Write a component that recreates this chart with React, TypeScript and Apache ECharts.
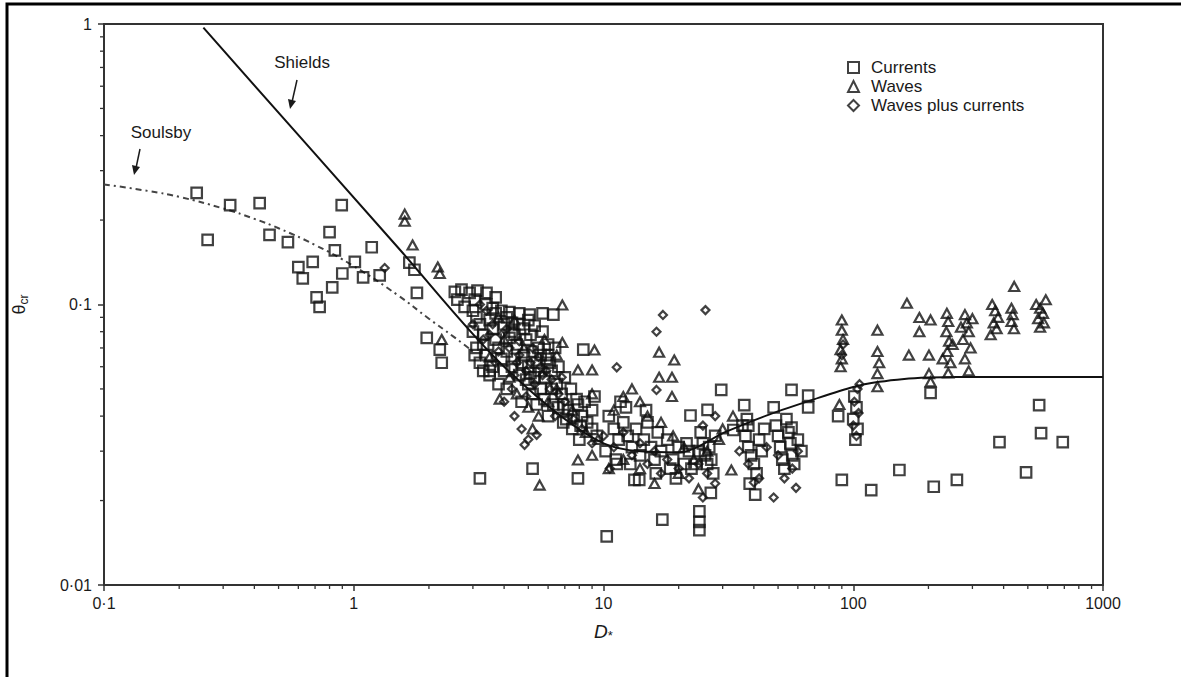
import React, { useEffect, useRef } from "react";
import * as echarts from "echarts";

// ---- Data (D*, theta_cr) ----
const currents: number[][] = [
  [0.235, 0.25], [0.26, 0.17], [0.32, 0.226], [0.42, 0.23], [0.46, 0.177], [0.545, 0.167], [0.6, 0.136], [0.625, 0.124],
  [0.685, 0.142], [0.71, 0.106], [0.73, 0.098], [0.8, 0.181], [0.82, 0.115], [0.84, 0.156], [0.895, 0.226], [0.9, 0.129],
  [1.01, 0.142], [1.09, 0.125], [1.18, 0.16], [1.27, 0.127], [1.67, 0.141], [1.75, 0.133], [1.79, 0.11], [1.96, 0.076],
  [2.21, 0.069], [2.25, 0.062],
  [2.54, 0.111], [2.7, 0.113], [2.91, 0.11], [3.13, 0.112], [3.4, 0.11], [3.7, 0.106], [2.6, 0.104], [3.05, 0.104],
  [2.78, 0.098], [3.0, 0.095], [3.1, 0.09], [3.2, 0.085], [3.0, 0.08], [3.3, 0.078], [3.5, 0.088], [3.6, 0.082],
  [3.3, 0.072], [3.1, 0.07], [3.4, 0.066], [3.7, 0.075], [3.8, 0.07], [3.9, 0.064], [3.6, 0.06], [3.2, 0.062],
  [4.0, 0.058], [3.5, 0.056], [3.8, 0.052], [4.1, 0.05], [3.3, 0.058], [3.05, 0.066],
  [4.2, 0.094], [4.6, 0.093], [5.06, 0.092], [5.7, 0.093], [6.3, 0.092], [8.3, 0.069], [9.0, 0.042], [7.9, 0.044],
  [3.2, 0.024], [5.2, 0.026], [7.9, 0.024], [11.3, 0.027], [13.3, 0.0237], [10.3, 0.0149],
  [4.3, 0.08], [4.5, 0.072], [4.8, 0.066], [5.0, 0.06], [5.3, 0.055], [5.6, 0.05], [4.6, 0.085], [5.1, 0.078],
  [5.5, 0.07], [5.9, 0.064], [6.2, 0.058], [6.5, 0.052], [5.8, 0.046], [6.3, 0.044], [6.8, 0.048], [7.2, 0.042],
  [4.4, 0.064], [4.9, 0.054], [5.4, 0.062], [6.0, 0.072], [6.6, 0.06], [7.0, 0.055], [7.4, 0.05], [7.8, 0.046],
  [8.2, 0.04], [8.6, 0.038], [9.0, 0.036], [9.4, 0.034], [6.9, 0.038], [7.5, 0.036], [8.0, 0.033], [5.2, 0.048],
  [4.7, 0.045], [3.5, 0.058], [8.4, 0.045], [9.2, 0.047],
  [4.1, 0.068], [4.3, 0.06], [4.6, 0.056], [4.9, 0.075], [5.2, 0.068], [5.5, 0.058], [5.8, 0.055], [6.1, 0.062],
  [4.0, 0.085], [4.4, 0.078], [5.0, 0.088],
  [3.4, 0.1], [3.6, 0.097], [3.9, 0.095], [4.1, 0.09], [3.7, 0.093], [4.3, 0.086], [4.8, 0.082], [5.3, 0.084],
  [5.7, 0.08], [6.0, 0.066], [6.4, 0.07], [5.0, 0.052], [5.4, 0.044], [6.0, 0.04], [6.6, 0.043], [7.1, 0.039],
  [4.2, 0.076], [4.7, 0.062], [5.1, 0.057], [5.6, 0.066], [6.2, 0.05], [6.9, 0.044], [7.6, 0.04], [8.1, 0.037],
  [10.5, 0.04], [11, 0.036], [11.5, 0.033], [12, 0.038], [12.5, 0.034], [13, 0.031], [13.5, 0.036], [14, 0.029],
  [14.5, 0.033], [15, 0.038], [15.5, 0.031], [16, 0.028], [16.5, 0.035], [17, 0.03], [18, 0.033], [19, 0.028],
  [20, 0.031], [21, 0.027], [22, 0.03], [10.2, 0.03], [11.2, 0.028], [12.8, 0.027], [16.2, 0.025], [18.5, 0.026],
  [19.5, 0.024], [21.5, 0.032], [22.5, 0.026], [12.3, 0.043], [14.8, 0.042], [11.7, 0.045], [22.3, 0.0402],
  [13.9, 0.0237], [17.2, 0.0171],
  [26.1, 0.0421], [29.6, 0.0496], [33.1, 0.0357], [36.6, 0.0438], [38, 0.037], [24.2, 0.0183], [24.2, 0.0168],
  [24.2, 0.0157], [26.9, 0.0213], [24.5, 0.035], [25, 0.032], [25.5, 0.029], [26, 0.027], [26.5, 0.031], [27, 0.028],
  [27.5, 0.025], [28, 0.034], [24, 0.03], [23.5, 0.027], [36, 0.037], [37, 0.034], [38, 0.031], [39, 0.029],
  [40, 0.027], [41, 0.025], [42, 0.033], [43, 0.03], [38.5, 0.023], [40.5, 0.021], [37.5, 0.039], [44, 0.036],
  [48, 0.043], [49, 0.037], [50, 0.034], [51, 0.031], [52, 0.028], [53, 0.026], [54, 0.039], [55, 0.035],
  [56, 0.032], [57, 0.029], [58, 0.027], [60, 0.033], [62, 0.03], [56.6, 0.0496], [66, 0.0473], [66, 0.043],
  [56.6, 0.0364],
  [87, 0.04], [101, 0.047], [103, 0.043], [100, 0.039], [104, 0.036], [102, 0.033], [90, 0.0237], [118, 0.0218],
  [153, 0.0257], [210, 0.0224], [260, 0.0237], [204, 0.0484], [555, 0.0438], [385, 0.0323], [565, 0.0348],
  [690, 0.0323], [492, 0.0252],
];

const waves: number[][] = [
  [1.6, 0.21], [1.6, 0.198], [1.72, 0.163], [2.17, 0.136], [2.21, 0.129], [2.25, 0.075],
  [6.84, 0.0996], [6.84, 0.0732], [9.2, 0.0688], [7.9, 0.0584], [9.0, 0.0584], [9.0, 0.048], [7.9, 0.0279],
  [5.55, 0.0227], [3.84, 0.046], [16.7, 0.0676], [19.2, 0.0634], [16.7, 0.055], [18.8, 0.055], [18.8, 0.047],
  [32.5, 0.0257], [4.2, 0.055], [4.5, 0.048], [5.0, 0.043], [5.5, 0.04], [6.0, 0.045], [6.5, 0.05], [7.5, 0.042],
  [8.5, 0.035], [9.5, 0.033], [11, 0.042], [12, 0.047], [13, 0.05], [14, 0.045], [15, 0.04], [17, 0.038],
  [19, 0.034], [21, 0.031], [23, 0.028], [26, 0.03], [29, 0.033], [3.5, 0.065], [4.0, 0.075], [4.8, 0.07],
  [5.8, 0.075], [6.5, 0.066], [12, 0.028], [14, 0.026], [16, 0.023], [20, 0.025], [24, 0.022], [10.5, 0.026],
  [9, 0.029], [30, 0.036], [33, 0.04], [5.2, 0.036], [3.8, 0.09], [4.4, 0.088],
  [88, 0.044], [90, 0.088], [90, 0.081], [91, 0.075], [89, 0.069], [90, 0.064], [89, 0.06], [125, 0.081],
  [125, 0.068], [125, 0.0567], [125, 0.0509], [127, 0.062], [164, 0.101], [184, 0.0899], [204, 0.0881],
  [184, 0.08], [167, 0.066], [201, 0.066], [201, 0.0567], [204, 0.053], [237, 0.093], [240, 0.087], [236, 0.08],
  [242, 0.074], [238, 0.068], [245, 0.062], [240, 0.057], [250, 0.072], [228, 0.064], [280, 0.092], [285, 0.086],
  [290, 0.08], [275, 0.075], [295, 0.07], [280, 0.064], [290, 0.058], [300, 0.089], [270, 0.083], [360, 0.1],
  [370, 0.095], [380, 0.09], [365, 0.086], [375, 0.082], [355, 0.078], [441, 0.116], [430, 0.097], [435, 0.092],
  [430, 0.087], [440, 0.082], [540, 0.1], [560, 0.097], [575, 0.093], [550, 0.089], [580, 0.086], [560, 0.083],
  [590, 0.104],
];

const wavesPlusCurrents: number[][] = [
  [1.33, 0.135], [4.83, 0.0316], [5.4, 0.0343], [11.3, 0.0597], [17.3, 0.0918], [16.3, 0.08], [25.6, 0.0955],
  [16.3, 0.0496], [25, 0.0205], [40, 0.0232], [59, 0.0222], [48, 0.0205], [10.6, 0.026], [3.2, 0.1], [3.4, 0.095],
  [3.6, 0.085], [3.9, 0.078], [4.2, 0.07], [4.5, 0.062], [4.9, 0.058], [5.3, 0.052], [5.7, 0.056], [6.1, 0.05],
  [4.0, 0.045], [4.4, 0.04], [4.7, 0.036], [5.0, 0.033], [6.4, 0.04], [7.0, 0.045], [7.6, 0.039], [8.2, 0.036],
  [9.0, 0.032], [10, 0.034], [11, 0.031], [12, 0.035], [13, 0.029], [14, 0.032], [15, 0.027], [16, 0.03],
  [17, 0.025], [18, 0.028], [20, 0.026], [22, 0.024], [24, 0.027], [26, 0.025], [28, 0.023], [35, 0.03],
  [38, 0.027], [42, 0.024], [45, 0.031], [50, 0.029], [53, 0.024], [57, 0.026], [60, 0.03], [3.0, 0.085],
  [3.3, 0.075], [5.5, 0.065], [6.8, 0.055], [25, 0.037], [28, 0.04], [104, 0.05], [101, 0.045], [105, 0.041],
  [100, 0.037], [103, 0.034], [106, 0.052], [91, 0.072], [90, 0.066],
  [3.8, 0.068], [4.6, 0.066], [5.1, 0.062], [5.6, 0.06], [6.2, 0.054], [4.3, 0.05], [4.9, 0.047], [3.5, 0.078],
  [4.1, 0.082], [4.6, 0.074], [5.2, 0.07], [5.9, 0.058], [6.6, 0.048], [3.7, 0.062], [4.4, 0.056],
];

const shieldsCurve: number[][] = [
  [0.25, 0.97], [1.5, 0.16], [4, 0.06], [10, 0.032], [20, 0.0297], [31, 0.0352], [46, 0.0405], [70, 0.046],
  [100, 0.0508], [127, 0.053], [160, 0.0543], [200, 0.0549], [260, 0.0552], [1000, 0.0552],
];

const soulsbyCurve: number[][] = [
  [0.1, 0.268], [0.15, 0.254], [0.2, 0.242], [0.3, 0.22], [0.4, 0.202], [0.5, 0.187], [0.7, 0.163], [1, 0.137],
  [1.5, 0.108], [2, 0.089], [2.5, 0.077], [3, 0.068],
];

const xMinorTicks: number[] = [
  0.2, 0.3, 0.4, 0.5, 0.6, 0.7, 0.8, 0.9, 2, 3, 4, 5, 6, 7, 8, 9, 20, 30, 40, 50, 60, 70, 80, 90,
  200, 300, 400, 500, 600, 700, 800, 900,
];
const yMinorTicks: number[] = [
  0.02, 0.03, 0.04, 0.05, 0.06, 0.07, 0.08, 0.09, 0.2, 0.3, 0.4, 0.5, 0.6, 0.7, 0.8, 0.9,
];

const seriesNames = ["Currents", "Waves", "Waves plus currents"];

const FONT = "'Liberation Sans', Arial, Helvetica, sans-serif";
const INK = "#1a1a1a";

function fmtLog(v: number): string {
  const n = Math.round(Math.log10(v));
  if (n >= 0) return String(Math.pow(10, n));
  return "0·" + "0".repeat(-n - 1) + "1";
}

export default function App() {
  const ref = useRef<HTMLDivElement>(null);

  useEffect(() => {
    if (!ref.current) return;
    const chart = echarts.init(ref.current, undefined, { renderer: "svg" });

    const markerStyle = {
      color: "rgba(0,0,0,0)",
      borderColor: "#111",
      borderWidth: 2.2,
    };

    const option: any = {
      animation: false,
      backgroundColor: "#fff",
      grid: {
        left: 104,
        top: 24,
        width: 999,
        height: 561,
        show: true,
        borderColor: "#333",
        borderWidth: 2,
        backgroundColor: "transparent",
      },
      legend: {
        data: seriesNames,
        orient: "vertical",
        left: 842,
        top: 53,
        itemWidth: 11,
        itemHeight: 11,
        itemGap: 0,
        textStyle: {
          fontFamily: FONT,
          fontSize: 17,
          color: INK,
          lineHeight: 19,
          padding: [0, 0, 0, 7],
        },
      },
      xAxis: {
        type: "log",
        logBase: 10,
        min: 0.1,
        max: 1000,
        name: "{d|D}{s|*}",
        nameLocation: "middle",
        nameGap: 36,
        nameTextStyle: {
          rich: {
            d: { fontFamily: FONT, fontSize: 19, fontStyle: "italic", color: INK },
            s: { fontFamily: FONT, fontSize: 13, color: INK, verticalAlign: "bottom", padding: [8, 0, 0, 0] },
          },
        },
        axisLine: { lineStyle: { color: "#333", width: 2 } },
        axisTick: { show: true, length: 6, lineStyle: { color: "#333", width: 1.5 } },
        splitLine: { show: false },
        minorTick: { show: false },
        axisLabel: {
          formatter: fmtLog,
          fontFamily: FONT,
          fontSize: 16,
          color: INK,
          margin: 10,
        },
      },
      yAxis: {
        type: "log",
        logBase: 10,
        min: 0.01,
        max: 1,
        name: "{t|θ}{s|cr}",
        nameLocation: "middle",
        nameGap: 76,
        nameRotate: 90,
        nameTextStyle: {
          rich: {
            t: { fontFamily: FONT, fontSize: 18, color: INK },
            s: { fontFamily: FONT, fontSize: 12, color: INK, padding: [0, 0, -10, 0] },
          },
        },
        axisLine: { lineStyle: { color: "#333", width: 2 } },
        axisTick: { show: true, length: 6, lineStyle: { color: "#333", width: 1.5 } },
        splitLine: { show: false },
        axisLabel: {
          formatter: fmtLog,
          fontFamily: FONT,
          fontSize: 16,
          color: INK,
          margin: 12,
        },
      },
      graphic: [
        {
          type: "polyline",
          shape: { points: [[7, 700], [7, 4], [1200, 4]] },
          style: { stroke: "#000", lineWidth: 3, fill: null },
          silent: true,
        },
        {
          type: "text",
          x: 302,
          y: 62,
          style: { text: "Shields", font: `17px ${FONT}`, fill: INK, align: "center", verticalAlign: "middle" },
        },
        { type: "line", shape: { x1: 297, y1: 80, x2: 292, y2: 102 }, style: { stroke: INK, lineWidth: 1.5 } },
        { type: "polygon", shape: { points: [[288, 99], [296, 101], [290, 109]] }, style: { fill: INK } },
        {
          type: "text",
          x: 161,
          y: 132,
          style: { text: "Soulsby", font: `17px ${FONT}`, fill: INK, align: "center", verticalAlign: "middle" },
        },
        { type: "line", shape: { x1: 140, y1: 149, x2: 136, y2: 168 }, style: { stroke: INK, lineWidth: 1.5 } },
        { type: "polygon", shape: { points: [[132, 165], [140, 167], [134, 175]] }, style: { fill: INK } },
      ],
      series: [
        {
          name: "Shields",
          type: "line",
          data: shieldsCurve,
          smooth: 0.3,
          symbol: "none",
          lineStyle: { color: "#111", width: 2 },
          z: 1,
          silent: true,
        },
        {
          name: "Soulsby",
          type: "line",
          data: soulsbyCurve,
          smooth: true,
          symbol: "none",
          lineStyle: { color: "#444", width: 2, type: [6, 4, 2, 4] },
          z: 1,
          silent: true,
        },
        {
          name: "Currents",
          type: "scatter",
          data: currents,
          symbol: "rect",
          symbolSize: 10.5,
          itemStyle: markerStyle,
          z: 3,
        },
        {
          name: "Waves",
          type: "scatter",
          data: waves,
          symbol: "triangle",
          symbolSize: [10, 9],
          itemStyle: markerStyle,
          z: 3,
        },
        {
          name: "Waves plus currents",
          type: "scatter",
          data: wavesPlusCurrents,
          symbol: "diamond",
          symbolSize: 8,
          itemStyle: markerStyle,
          z: 3,
        },
        {
          name: "xMinor",
          type: "custom",
          data: xMinorTicks.map((v) => [v, 0.01]),
          clip: false,
          silent: true,
          renderItem: (_p: any, api: any) => {
            const pt = api.coord([api.value(0), api.value(1)]);
            return {
              type: "line",
              shape: { x1: pt[0], y1: pt[1], x2: pt[0], y2: pt[1] + 4 },
              style: { stroke: "#333", lineWidth: 1.3 },
            };
          },
        },
        {
          name: "yMinor",
          type: "custom",
          data: yMinorTicks.map((v) => [0.1, v]),
          clip: false,
          silent: true,
          renderItem: (_p: any, api: any) => {
            const pt = api.coord([api.value(0), api.value(1)]);
            return {
              type: "line",
              shape: { x1: pt[0] - 4, y1: pt[1], x2: pt[0], y2: pt[1] },
              style: { stroke: "#333", lineWidth: 1.3 },
            };
          },
        },
      ],
    };

    chart.setOption(option);
    return () => chart.dispose();
  }, []);

  return (
    <div
      ref={ref}
      style={{ position: "fixed", left: 0, top: 0, width: 1181, height: 677, background: "#fff" }}
    />
  );
}
